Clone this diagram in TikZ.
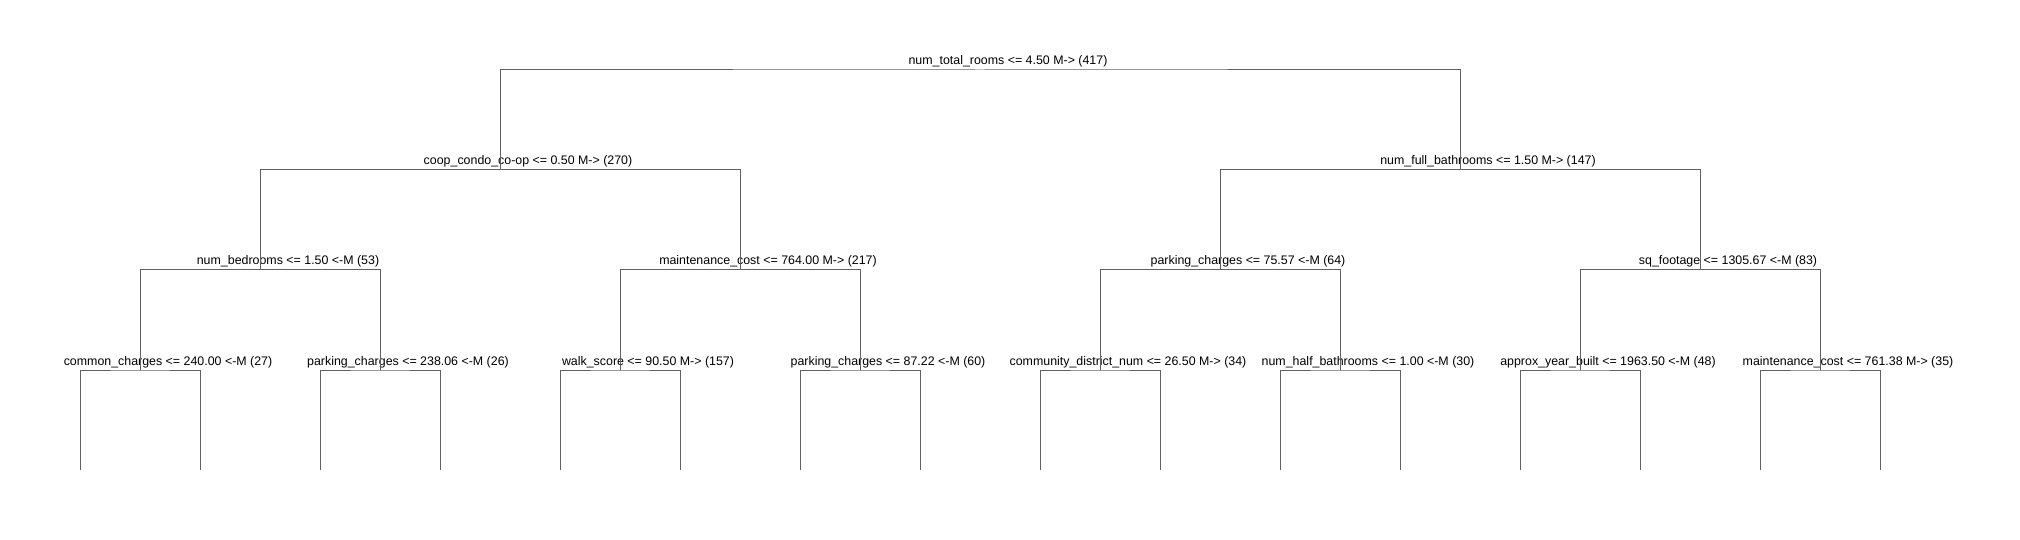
\documentclass[tikz,border=0pt]{standalone}
\usepackage{fontspec}
\newfontfamily\treefont{Liberation Sans}
\usetikzlibrary{positioning}
\usetikzlibrary{calc}
\definecolor{treegray}{RGB}{96,96,96}
\begin{document}
\begin{tikzpicture}[x=1pt, y=-1pt]
 \useasboundingbox [fill=white] (0,0) rectangle (2020,540);
 \tikzstyle{lab} = [anchor=base, inner sep=0pt, font=\treefont\fontsize{12.4}{14}\selectfont];
 \tikzstyle{C} = [color=treegray, line width=1pt];

 % split points
 \coordinate (rooms) at (980,70);
 \coordinate (coop) at (500,169.5);
 \coordinate (fullbath) at (1460,169.5);
 \coordinate (bedrooms) at (260,269.5);
 \coordinate (maint) at (740,269.5);
 \coordinate (parking) at (1220,269.5);
 \coordinate (sqft) at (1700,269.5);
 \coordinate (common) at (140,370);
 \coordinate (parkA) at (380,370);
 \coordinate (walk) at (620,370);
 \coordinate (parkB) at (860,370);
 \coordinate (district) at (1100,370);
 \coordinate (halfbath) at (1340,370);
 \coordinate (yearbuilt) at (1580,370);
 \coordinate (maintB) at (1820,370);
 \foreach \i in {0,...,15} \coordinate (leaf\i) at (80+120*\i,470);

 % split labels
 \node [lab] (roomsL) at ($(rooms)+(28,-5)$) {num\_total\_rooms <= 4.50 M-> (417)};
 \node [lab] (coopL) at ($(coop)+(28,-5)$) {coop\_condo\_co-op <= 0.50 M-> (270)};
 \node [lab] (fullbathL) at ($(fullbath)+(28,-5)$) {num\_full\_bathrooms <= 1.50 M-> (147)};
 \node [lab] (bedroomsL) at ($(bedrooms)+(28,-5)$) {num\_bedrooms <= 1.50 <-M (53)};
 \node [lab] (maintL) at ($(maint)+(28,-5)$) {maintenance\_cost <= 764.00 M-> (217)};
 \node [lab] (parkingL) at ($(parking)+(28,-5)$) {parking\_charges <= 75.57 <-M (64)};
 \node [lab] (sqftL) at ($(sqft)+(28,-5)$) {sq\_footage <= 1305.67 <-M (83)};
 \node [lab] (commonL) at ($(common)+(28,-5)$) {common\_charges <= 240.00 <-M (27)};
 \node [lab] (parkAL) at ($(parkA)+(28,-5)$) {parking\_charges <= 238.06 <-M (26)};
 \node [lab] (walkL) at ($(walk)+(28,-5)$) {walk\_score <= 90.50 M-> (157)};
 \node [lab] (parkBL) at ($(parkB)+(28,-5)$) {parking\_charges <= 87.22 <-M (60)};
 \node [lab] (districtL) at ($(district)+(28,-5)$) {community\_district\_num <= 26.50 M-> (34)};
 \node [lab] (halfbathL) at ($(halfbath)+(28,-5)$) {num\_half\_bathrooms <= 1.00 <-M (30)};
 \node [lab] (yearbuiltL) at ($(yearbuilt)+(28,-5)$) {approx\_year\_built <= 1963.50 <-M (48)};
 \node [lab] (maintBL) at ($(maintB)+(28,-5)$) {maintenance\_cost <= 761.38 M-> (35)};

 % branches
 \draw [C] (coop) |- (rooms) -| (fullbath);
 \draw [C] (bedrooms) |- (coop) -| (maint);
 \draw [C] (parking) |- (fullbath) -| (sqft);
 \draw [C] (common) |- (bedrooms) -| (parkA);
 \draw [C] (walk) |- (maint) -| (parkB);
 \draw [C] (district) |- (parking) -| (halfbath);
 \draw [C] (yearbuilt) |- (sqft) -| (maintB);
 \draw [C] (leaf0) |- (common) -| (leaf1);
 \draw [C] (leaf2) |- (parkA) -| (leaf3);
 \draw [C] (leaf4) |- (walk) -| (leaf5);
 \draw [C] (leaf6) |- (parkB) -| (leaf7);
 \draw [C] (leaf8) |- (district) -| (leaf9);
 \draw [C] (leaf10) |- (halfbath) -| (leaf11);
 \draw [C] (leaf12) |- (yearbuilt) -| (leaf13);
 \draw [C] (leaf14) |- (maintB) -| (leaf15);
\end{tikzpicture}
\end{document}
